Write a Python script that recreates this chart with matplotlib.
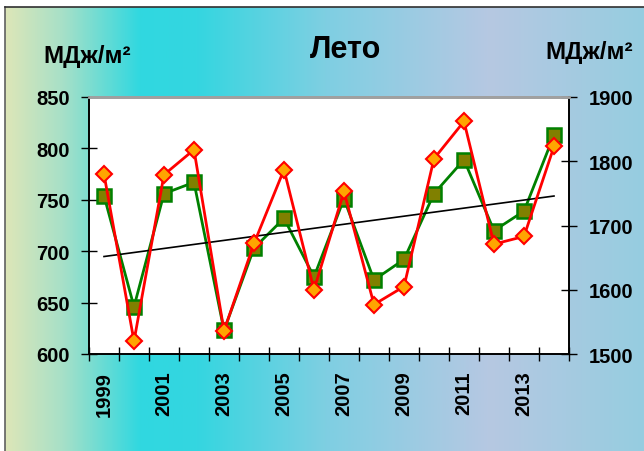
import numpy as np
import matplotlib
matplotlib.use("Agg")
import matplotlib.pyplot as plt
from matplotlib.colors import LinearSegmentedColormap

years = list(range(1999, 2015))
left_vals = [754, 646, 756, 767, 623, 703, 732, 675, 751, 672, 692, 756, 789, 720, 739, 813]
right_vals = [1780, 1520, 1779, 1818, 1536, 1672, 1787, 1600, 1753, 1577, 1605, 1804, 1862, 1671, 1683, 1823]
left_ticks = [600, 650, 700, 750, 800, 850]
right_ticks = [1500, 1600, 1700, 1800, 1900]
year_labels = [str(y) for y in years[::2]]

plt.rcParams['font.family'] = ['Liberation Sans', 'DejaVu Sans']
plt.rcParams['font.weight'] = 'bold'

W, H = 644, 452
fig = plt.figure(figsize=(W / 100, H / 100), dpi=100)

# gradient background frame
bg = fig.add_axes([5 / W, 0, 1 - 5 / W, 1 - 8 / H])
cmap = LinearSegmentedColormap.from_list("bg", [
    (0.0, "#dde6b8"), (0.09, "#a6e0c8"), (0.21, "#30d8e0"), (0.30, "#34d6e0"),
    (0.50, "#7ecfe2"), (0.76, "#b6c8e2"), (1.0, "#96cde0")])
bg.imshow(np.linspace(0, 1, 256)[None, :], aspect="auto", cmap=cmap, extent=[0, 1, 0, 1])
bg.set_xticks([]); bg.set_yticks([])
for s in ["right", "bottom"]:
    bg.spines[s].set_visible(False)
bg.spines["left"].set_color("#606060")
bg.spines["top"].set_color("#303030")
bg.spines["left"].set_linewidth(1.2)
bg.spines["top"].set_linewidth(1.2)

ax = fig.add_axes([89 / W, 1 - 355 / H, 480 / W, 257 / H])
ax.set_facecolor("white")
x = np.arange(len(years))

ax.plot(x, left_vals, color="#008000", lw=2.0, marker="s", ms=10,
        mfc="#808000", mec="#008000", mew=1.8, zorder=3)
coef = np.polyfit(x, left_vals, 1)
ax.plot(x, np.polyval(coef, x), color="black", lw=1.2, zorder=4)
ax.set_ylim(600, 850)
ax.set_yticks(left_ticks)
ax.set_xlim(-0.5, len(years) - 0.5)
ax.set_xticks(np.arange(-0.5, len(years), 1.0))
ax.set_xticklabels([])
ax.set_xticks(x[::2], minor=True)
ax.set_xticklabels(year_labels, minor=True, rotation=90, fontsize=14.5, fontweight="bold")
ax.tick_params(axis="x", which="minor", length=0, pad=12)
ax.tick_params(axis="x", which="major", direction="inout", length=10, width=1)
ax.tick_params(axis="y", direction="inout", length=12, width=1, labelsize=14.5, pad=8)

ax2 = ax.twinx()
ax2.plot(x, right_vals, color="#ff0000", lw=2.0, marker="D", ms=8.5,
         mfc="#ffa500", mec="#ff0000", mew=1.5, zorder=3)
ax2.set_ylim(1500, 1900)
ax2.set_yticks(right_ticks)
ax2.tick_params(axis="y", direction="inout", length=12, width=1, labelsize=14.5, pad=8)

for a in (ax, ax2):
    a.spines["top"].set_color("#a0a0a0")
    a.spines["top"].set_linewidth(2)
    a.spines["left"].set_linewidth(1.2)
    a.spines["right"].set_linewidth(1.2)
    a.spines["bottom"].set_linewidth(1.2)

fig.text(346 / W, 1 - 50 / H, "Лето", fontsize=22, fontweight="bold", ha="center", va="center")
fig.text(87 / W, 1 - 57 / H, "МДж/м²", fontsize=17.5, fontweight="bold", ha="center", va="center")
fig.text(589 / W, 1 - 52 / H, "МДж/м²", fontsize=17.5, fontweight="bold", ha="center", va="center")

fig.savefig("out.png", dpi=100)
